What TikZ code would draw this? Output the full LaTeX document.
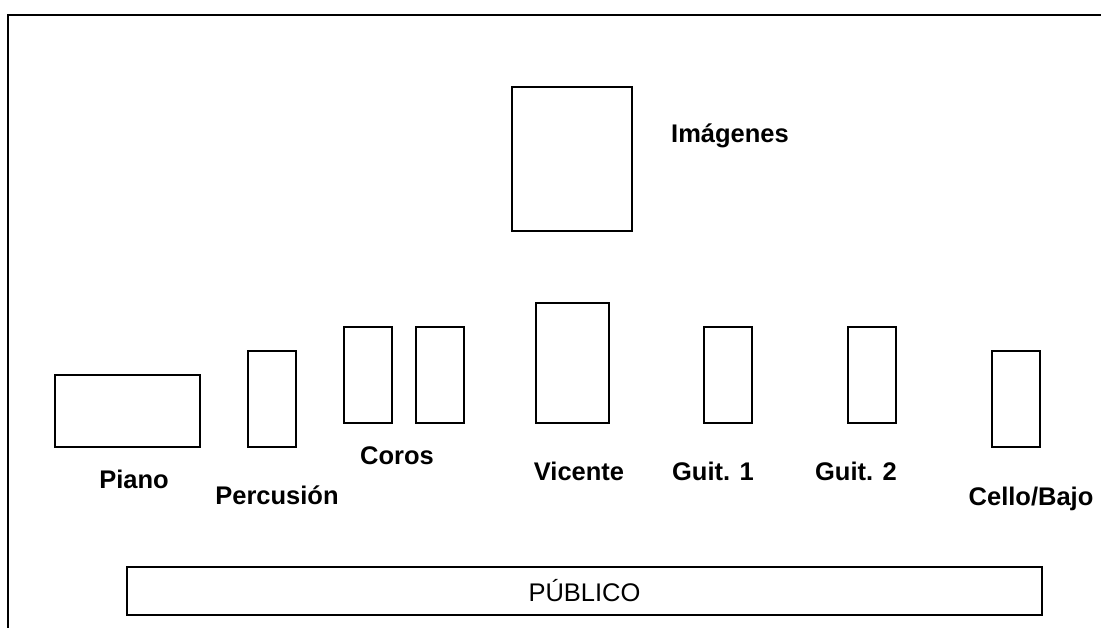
\documentclass[tikz,border=0pt]{standalone}
\usepackage{fontspec}
\setmainfont{Liberation Sans}
\usepackage{tikz}
\usetikzlibrary{positioning}

\tikzset{
	place/.style={draw, line width=2pt, inner sep=0pt},
	lbl/.style={anchor=base, font=\fontsize{25.5}{30}\selectfont\bfseries, inner sep=0pt},
}

\begin{document}
\begin{tikzpicture}[x=1pt, y=-1pt, line width=2pt]
		\useasboundingbox (0,0) rectangle (1101,628);
		% stage frame
		\draw[line width=2.5pt] (8,628) -- (8,15) -- (1101,15);

		\node[place, minimum width=120pt, minimum height=144pt] (img) at (572,159) {};
		\node[lbl] (imgl) at (730,143) {Imágenes};

		\node[place, minimum width=145pt, minimum height=72pt] (piano) at (127.5,411) {};
		\node[place, minimum width=48pt, minimum height=96pt] (perc) at (272,399) {};
		\node[place, minimum width=48pt, minimum height=96pt] (coro1) at (368,375) {};
		\node[place, minimum width=48pt, minimum height=96pt, right=22pt of coro1] (coro2) {};
		\node[place, minimum width=73pt, minimum height=120pt] (vic) at (572.5,363) {};
		\node[place, minimum width=48pt, minimum height=96pt] (guit1) at (728,375) {};
		\node[place, minimum width=48pt, minimum height=96pt, right=94pt of guit1] (guit2) {};
		\node[place, minimum width=48pt, minimum height=96pt] (cello) at (1016,399) {};

		\node[lbl] (pianol) at (134,488) {Piano};
		\node[lbl] (percl) at (277,504) {Percusión};
		\node[lbl] (corol) at (397,464) {Coros};
		\node[lbl] (vicl) at (579,480) {Vicente};
		\node[lbl] (guit1l) at (713,480) {Guit. 1};
		\node[lbl] (guit2l) at (856,480) {Guit. 2};
		\node[lbl] (cellol) at (1031,505) {Cello/Bajo};

		\node[place, minimum width=915pt, minimum height=48pt,
			font=\fontsize{25.5}{30}\selectfont] (pub) at (584.5,591) {PÚBLICO};
	\end{tikzpicture}
\end{document}
